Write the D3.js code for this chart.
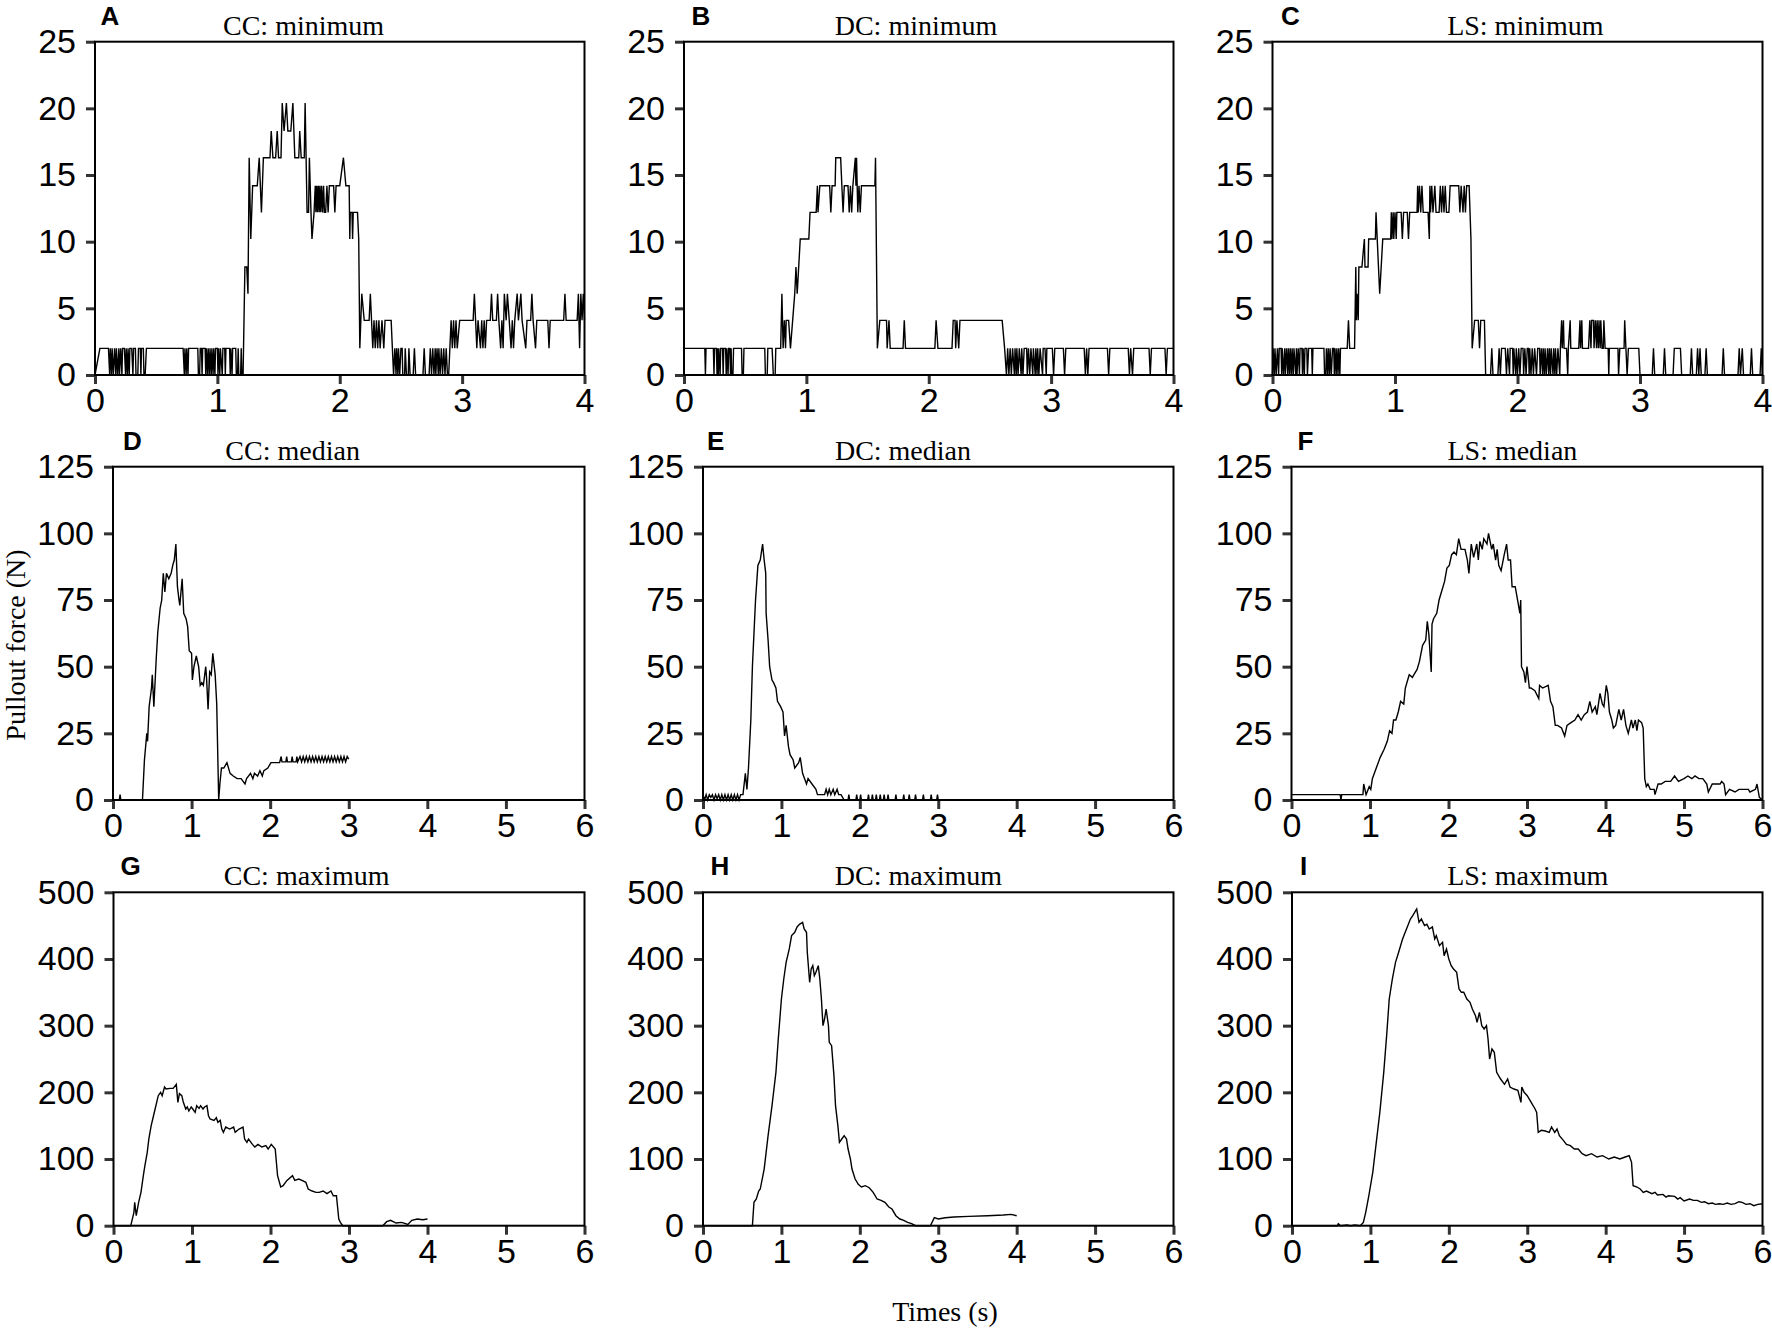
<!DOCTYPE html>
<html>
<head>
<meta charset="utf-8">
<script src="https://cdnjs.cloudflare.com/ajax/libs/d3/7.8.5/d3.min.js"></script>
<style>
body { margin: 0; background: #fff; }
svg { display: block; }
.tick text { font-family: "Liberation Sans", Arial, sans-serif; font-size: 34px; fill: #000; }
.tick line { stroke: #333; stroke-width: 3; }
.title { font-family: "Liberation Serif", "Times New Roman", serif; font-size: 28px; }
.letter { font-family: "Liberation Sans", Arial, sans-serif; font-size: 26px; font-weight: bold; }
.axlabel { font-family: "Liberation Serif", "Times New Roman", serif; font-size: 28px; }
</style>
</head>
<body>
<svg id="canvas" width="1772" height="1330"></svg>
<script>

// [time (s), pullout force (N)]
var ccMin = [[0,0],[0.04,2],[0.11,2],[0.12,0],[0.125,2],[0.135,0],[0.14,2],[0.15,0],[0.16,2],[0.17,0],[0.175,2],[0.185,0],[0.195,2],[0.2,0],[0.21,2],[0.22,0],[0.225,2],[0.24,2],[0.25,0],[0.255,2],[0.265,0],[0.27,2],[0.28,0],[0.285,2],[0.3,2],[0.31,0],[0.315,2],[0.33,2],[0.335,0],[0.35,0],[0.355,2],[0.37,2],[0.375,0],[0.38,2],[0.395,2],[0.4,0],[0.41,0],[0.42,2],
  [0.72,2],[0.73,0],[0.735,2],[0.745,0],[0.75,2],[0.76,0],[0.765,2],[0.84,2],[0.845,0],[0.855,0],[0.86,2],[0.87,2],[0.875,0],[0.88,2],[0.9,2],[0.905,0],[0.91,2],[0.92,0],[0.925,2],[0.935,0],[0.94,2],[0.95,0],[0.955,2],[0.965,0],[0.97,2],[0.98,0],[0.985,2],[1.0,2],[1.005,0],[1.01,2],[1.02,0],[1.025,2],[1.04,0],[1.045,2],[1.06,2],[1.065,0],[1.07,2],[1.1,2],[1.105,0],[1.11,2],[1.12,0],[1.125,2],[1.15,2],[1.155,0],[1.165,0],[1.17,2],[1.175,0],[1.19,0],[1.195,2],[1.2,0],[1.21,0],
  [1.225,8.1],[1.24,8.1],[1.25,6.1],[1.26,16.3],[1.273,10.2],[1.288,14.2],[1.326,14.2],[1.342,16.3],[1.36,12.2],[1.376,16.3],[1.43,16.3],[1.44,18.3],[1.454,16.3],[1.476,16.3],[1.489,18.3],[1.5,16.3],[1.52,16.3],[1.53,20.4],[1.545,18.3],[1.564,20.4],[1.576,18.3],[1.6,18.3],[1.617,20.4],[1.633,16.3],[1.665,16.3],[1.673,18.3],[1.685,16.3],[1.71,16.3],[1.717,20.4],[1.733,12.2],[1.745,12.2],[1.752,16.3],[1.765,12.2],[1.773,10.2],[1.79,12.2],[1.8,14.2],[1.805,12.2],[1.812,14.2],[1.818,12.2],[1.825,14.2],[1.832,12.2],[1.838,14.2],[1.845,12.2],[1.852,14.2],[1.86,12.2],[1.868,14.2],[1.875,12.2],[1.885,12.2],[1.895,14.2],[1.905,12.2],[1.915,14.2],[1.95,14.2],[1.96,12.2],[1.97,14.2],[2.0,14.2],[2.03,16.3],[2.05,14.2],[2.077,14.2],[2.082,10.2],[2.086,12.2],[2.1,12.2],[2.105,10.2],[2.11,12.2],[2.145,12.2],[2.155,10.2],[2.164,2],[2.18,6.1],[2.2,4.1],[2.24,4.1],[2.25,6.1],[2.27,2],[2.28,4.1],[2.29,2],[2.3,4.1],[2.31,2],[2.32,4.1],[2.33,2],[2.345,4.1],[2.36,2],[2.37,4.1],[2.42,4.1],[2.43,2],[2.44,0],[2.45,2],[2.46,0],[2.465,2],[2.475,0],[2.48,2],[2.49,0],[2.5,2],[2.51,2],[2.515,0],[2.53,0],[2.535,2],[2.545,0],[2.56,0],[2.565,2],[2.575,0],[2.6,0],[2.61,2],[2.62,0],[2.68,0],[2.69,2],[2.7,0],[2.73,0],[2.74,2],[2.75,0],[2.76,2],[2.77,0],[2.78,2],[2.785,0],[2.795,2],[2.805,0],[2.81,2],[2.82,0],[2.83,2],[2.84,0],[2.85,2],[2.86,0],[2.87,2],[2.88,0],[2.89,0],[2.91,4.1],[2.92,2],[2.93,4.1],[2.94,2],[2.95,4.1],[2.96,2],[2.98,4.1],[3.09,4.1],[3.1,6.1],[3.11,4.1],[3.12,2],[3.13,4.1],[3.15,2],[3.16,4.1],[3.17,2],[3.18,4.1],[3.19,2],[3.2,4.1],[3.23,4.1],[3.24,6.1],[3.25,4.1],[3.28,4.1],[3.29,6.1],[3.3,4.1],[3.315,2],[3.325,4.1],[3.335,2],[3.345,6.1],[3.36,4.1],[3.37,6.1],[3.385,4.1],[3.4,2],[3.41,4.1],[3.42,2],[3.43,4.1],[3.45,6.1],[3.46,4.1],[3.48,6.1],[3.49,4.1],[3.52,2],[3.53,4.1],[3.56,4.1],[3.57,6.1],[3.58,4.1],[3.6,2],[3.61,4.1],[3.7,4.1],[3.71,2],[3.72,4.1],[3.83,4.1],[3.84,6.1],[3.85,4.1],[3.94,4.1],[3.95,6.1],[3.96,2],[3.97,6.1],[3.98,4.1],[3.99,6.1],[4.0,4.1]];

var dcMin = [[0,2],[0.17,2],[0.175,0],[0.18,2],[0.24,2],[0.245,0],[0.25,2],[0.265,2],[0.27,0],[0.275,2],[0.28,0],[0.285,2],[0.295,0],[0.3,2],[0.315,2],[0.32,0],[0.325,2],[0.34,2],[0.345,0],[0.35,2],[0.36,0],[0.365,2],[0.375,2],[0.38,0],[0.385,2],[0.39,0],[0.4,0],[0.405,2],[0.47,2],[0.475,0],[0.485,0],[0.49,2],[0.66,2],[0.665,0],[0.68,0],[0.685,2],[0.72,2],[0.73,0],[0.745,0],[0.75,2],[0.79,2],[0.8,6.1],[0.81,2],[0.82,4.1],[0.83,2],[0.835,4.1],[0.855,4.1],[0.87,2],[0.905,6.1],[0.915,8.1],[0.925,6.1],[0.95,10.2],[1.02,10.2],[1.03,12.2],[1.08,12.2],[1.09,14.2],[1.095,12.2],[1.11,14.2],[1.19,14.2],[1.2,12.2],[1.21,14.2],[1.235,14.2],[1.24,16.3],[1.28,16.3],[1.29,14.2],[1.3,12.2],[1.31,14.2],[1.34,14.2],[1.35,12.2],[1.36,14.2],[1.37,12.2],[1.38,14.2],[1.4,16.3],[1.405,14.2],[1.41,16.3],[1.42,12.2],[1.43,14.2],[1.44,12.2],[1.45,14.2],[1.56,14.2],[1.565,16.3],[1.58,2],[1.6,4.1],[1.655,4.1],[1.66,2],[1.675,4.1],[1.685,2],[1.79,2],[1.8,4.1],[1.81,2],[2.05,2],[2.06,4.1],[2.075,2],[2.19,2],[2.2,4.1],[2.215,4.1],[2.22,2],[2.23,4.1],[2.245,2],[2.255,4.1],[2.6,4.1],[2.62,2],[2.635,0],[2.645,2],[2.655,0],[2.665,2],[2.675,0],[2.685,2],[2.7,0],[2.705,2],[2.715,0],[2.72,2],[2.73,0],[2.74,2],[2.755,0],[2.76,2],[2.77,0],[2.78,2],[2.8,2],[2.805,0],[2.815,2],[2.825,0],[2.835,2],[2.85,0],[2.855,2],[2.87,0],[2.875,2],[2.885,0],[2.89,2],[2.9,0],[2.91,2],[2.93,0],[2.935,2],[2.95,2],[2.96,0],[2.965,2],[3.01,2],[3.02,0],[3.03,2],[3.1,2],[3.11,0],[3.12,2],[3.27,2],[3.28,0],[3.29,2],[3.3,0],[3.31,2],[3.46,2],[3.47,0],[3.48,2],[3.63,2],[3.64,0],[3.65,2],[3.665,0],[3.675,2],[3.8,2],[3.81,0],[3.82,2],[3.93,2],[3.94,0],[3.95,2],[4.0,2]];

var lsMin = [[0,0],[0.005,2],[0.015,0],[0.02,2],[0.03,0],[0.04,2],[0.05,0],[0.055,2],[0.07,2],[0.075,0],[0.08,2],[0.09,0],[0.1,2],[0.105,0],[0.115,2],[0.125,0],[0.13,2],[0.14,0],[0.145,2],[0.155,0],[0.16,2],[0.17,0],[0.175,2],[0.19,0],[0.195,2],[0.2,0],[0.21,2],[0.22,0],[0.225,2],[0.24,2],[0.245,0],[0.25,2],[0.26,0],[0.265,2],[0.28,2],[0.285,0],[0.295,2],[0.32,2],[0.325,0],[0.33,2],[0.42,2],[0.425,0],[0.435,0],[0.44,2],[0.45,0],[0.455,2],[0.465,0],[0.47,2],[0.48,0],[0.49,2],[0.5,2],[0.505,0],[0.51,2],[0.52,0],[0.525,2],[0.535,0],[0.54,2],[0.55,0],[0.555,2],[0.61,2],[0.62,4.1],[0.63,2],[0.67,2],[0.68,8.1],[0.685,4.1],[0.69,6.1],[0.7,4.1],[0.705,8.1],[0.73,8.1],[0.75,10.2],[0.755,8.1],[0.78,8.1],[0.785,10.2],[0.84,10.2],[0.845,12.2],[0.875,6.1],[0.9,10.2],[0.965,10.2],[0.97,12.2],[0.975,10.2],[0.985,12.2],[0.99,10.2],[1.0,12.2],[1.01,10.2],[1.015,12.2],[1.05,12.2],[1.06,10.2],[1.07,12.2],[1.1,12.2],[1.11,10.2],[1.12,12.2],[1.18,12.2],[1.185,14.2],[1.19,12.2],[1.2,14.2],[1.21,12.2],[1.22,14.2],[1.23,12.2],[1.27,12.2],[1.28,10.2],[1.285,14.2],[1.29,12.2],[1.3,14.2],[1.31,12.2],[1.325,14.2],[1.335,12.2],[1.36,12.2],[1.37,14.2],[1.38,12.2],[1.39,14.2],[1.4,12.2],[1.41,14.2],[1.42,12.2],[1.44,12.2],[1.45,14.2],[1.52,14.2],[1.53,12.2],[1.54,14.2],[1.555,12.2],[1.565,14.2],[1.575,12.2],[1.585,14.2],[1.605,14.2],[1.62,10.2],[1.63,2],[1.65,4.1],[1.68,4.1],[1.69,2],[1.7,4.1],[1.73,4.1],[1.74,0],[1.78,0],[1.79,2],[1.8,0],[1.84,0],[1.85,2],[1.86,0],[1.87,2],[1.9,2],[1.91,0],[1.92,2],[1.935,0],[1.94,2],[1.96,2],[1.965,0],[1.97,2],[1.985,0],[1.99,2],[2.0,0],[2.01,2],[2.02,0],[2.03,2],[2.045,2],[2.05,0],[2.06,2],[2.07,0],[2.08,2],[2.09,2],[2.095,0],[2.1,2],[2.11,0],[2.12,2],[2.13,0],[2.14,2],[2.155,0],[2.165,2],[2.18,2],[2.185,0],[2.195,2],[2.205,0],[2.21,2],[2.22,0],[2.225,2],[2.235,0],[2.245,2],[2.255,0],[2.26,2],[2.27,0],[2.275,2],[2.29,0],[2.295,2],[2.305,0],[2.31,2],[2.32,0],[2.33,2],[2.345,0],[2.35,2],[2.36,4.1],[2.365,2],[2.375,4.1],[2.38,2],[2.4,2],[2.41,0],[2.415,2],[2.43,4.1],[2.435,2],[2.5,2],[2.51,4.1],[2.515,2],[2.525,4.1],[2.53,2],[2.58,2],[2.59,4.1],[2.6,2],[2.605,4.1],[2.62,4.1],[2.625,2],[2.635,4.1],[2.645,2],[2.65,4.1],[2.66,2],[2.665,4.1],[2.675,2],[2.68,4.1],[2.69,2],[2.7,2],[2.705,4.1],[2.715,2],[2.74,2],[2.745,0],[2.75,2],[2.82,2],[2.825,0],[2.835,2],[2.87,2],[2.875,4.1],[2.885,2],[2.895,0],[2.905,2],[2.99,2],[3.0,0],[3.1,0],[3.11,2],[3.12,0],[3.19,0],[3.2,2],[3.21,0],[3.27,0],[3.28,2],[3.33,2],[3.34,0],[3.41,0],[3.42,2],[3.43,0],[3.46,0],[3.47,2],[3.48,0],[3.49,2],[3.5,0],[3.53,0],[3.54,2],[3.55,0],[3.67,0],[3.68,2],[3.69,0],[3.8,0],[3.81,2],[3.82,0],[3.835,2],[3.845,0],[3.9,0],[3.91,2],[3.92,0],[3.98,0],[3.99,2],[4.0,0]];

var ccMed = [[0,0],[0.08,0],[0.09,2],[0.1,0],[0.375,0],[0.4,15],[0.43,25],[0.44,22],[0.46,35],[0.49,42],[0.5,47],[0.52,35],[0.55,53],[0.57,63],[0.6,72],[0.62,75],[0.64,85],[0.66,78],[0.68,85],[0.71,83],[0.74,85],[0.76,88],[0.78,90],[0.8,96],[0.82,80],[0.84,75],[0.85,73],[0.88,83],[0.9,70],[0.93,68],[0.95,65],[0.97,56],[1.0,55],[1.01,45],[1.03,50],[1.06,54],[1.09,50],[1.11,43],[1.13,44],[1.15,43],[1.18,50],[1.19,46],[1.21,34],[1.23,48],[1.25,47],[1.27,55],[1.3,47],[1.32,36],[1.345,0],[1.36,6],[1.38,12],[1.41,12],[1.45,14],[1.49,10],[1.53,9],[1.58,8],[1.63,8],[1.68,6],[1.7,8],[1.75,10],[1.78,8],[1.8,10],[1.84,9],[1.87,11],[1.9,9],[1.92,11],[1.97,12],[2.01,14],[2.12,14],[2.14,16.3],[2.15,14.3],[2.2,14.3],[2.21,16.3],[2.22,14.3],[2.27,14.3],[2.28,16.3],[2.29,14.3],[2.33,14.3],[2.34,16.3],[2.35,14.3],[2.38,16.3],[2.4,14.3],[2.42,16.3],[2.44,14.3],[2.46,16.3],[2.48,14.3],[2.5,16.3],[2.52,14.3],[2.54,16.3],[2.56,14.3],[2.58,16.3],[2.6,14.3],[2.62,16.3],[2.64,14.3],[2.66,16.3],[2.68,14.3],[2.7,16.3],[2.72,14.3],[2.74,16.3],[2.76,14.3],[2.78,16.3],[2.8,14.3],[2.82,16.3],[2.84,14.3],[2.86,16.3],[2.88,14.3],[2.9,16.3],[2.92,14.3],[2.94,16.3],[2.96,14.3],[2.98,16.3],[3.0,15.3]];

var dcMed = [[0,2],[0.02,0],[0.04,2],[0.06,0],[0.08,2],[0.1,1],[0.12,2],[0.14,0],[0.16,2],[0.18,0.5],[0.2,2],[0.22,0],[0.24,2],[0.26,0],[0.28,2],[0.3,0],[0.32,2],[0.34,0],[0.36,2],[0.38,0],[0.4,2],[0.42,0],[0.44,2],[0.46,0],[0.48,2],[0.51,2],[0.54,10],[0.56,4],[0.58,12],[0.61,30],[0.63,50],[0.67,75],[0.7,88],[0.73,90],[0.76,96],[0.78,90],[0.8,85],[0.805,70],[0.83,60],[0.85,50],[0.88,45],[0.9,44],[0.93,42],[0.95,37],[0.99,35],[1.02,33],[1.04,24],[1.06,28],[1.09,20],[1.11,17],[1.15,15],[1.17,12],[1.22,14],[1.24,16],[1.27,10],[1.32,6],[1.34,8],[1.39,6],[1.44,4],[1.46,2],[1.55,2],[1.57,4],[1.59,2],[1.61,4],[1.63,2],[1.66,4],[1.68,2],[1.71,4],[1.73,2],[1.76,2],[1.8,0],[1.85,0],[1.86,2],[1.87,0],[1.95,0],[1.96,2],[1.97,0],[2.0,0],[2.01,2],[2.02,0],[2.1,0],[2.11,2],[2.12,0],[2.15,0],[2.16,2],[2.17,0],[2.2,0],[2.21,2],[2.22,0],[2.25,0],[2.26,2],[2.27,0],[2.3,0],[2.31,2],[2.32,0],[2.35,0],[2.36,2],[2.37,0],[2.45,0],[2.46,2],[2.47,0],[2.55,0],[2.56,2],[2.57,0],[2.62,0],[2.63,2],[2.64,0],[2.7,0],[2.71,2],[2.72,0],[2.8,0],[2.81,2],[2.82,0],[2.9,0],[2.91,2],[2.92,0],[2.98,0],[2.99,2],[3.0,0]];

var lsMed = [[0,2],[0.62,2],[0.63,0],[0.64,2],[0.91,2],[0.92,6],[0.95,2],[0.99,5],[1.01,4],[1.03,8],[1.08,12],[1.13,16],[1.18,19],[1.22,22],[1.25,26],[1.28,25],[1.3,30],[1.33,30],[1.36,33],[1.39,37],[1.43,36],[1.45,42],[1.48,45],[1.5,47],[1.54,46],[1.56,47],[1.6,49],[1.63,52],[1.67,58],[1.71,60],[1.73,67],[1.75,62],[1.78,48],[1.79,66],[1.81,68],[1.85,70],[1.88,75],[1.91,78],[1.95,82],[1.98,87],[2.01,88],[2.04,92],[2.07,93],[2.1,92],[2.13,98],[2.16,94],[2.21,94],[2.24,90],[2.26,85],[2.29,96],[2.32,91],[2.36,96],[2.38,90],[2.4,97],[2.43,94],[2.45,98],[2.49,96],[2.51,100],[2.55,94],[2.57,96],[2.6,90],[2.62,94],[2.64,88],[2.67,86],[2.71,92],[2.74,96],[2.76,90],[2.79,90],[2.81,80],[2.85,80],[2.88,75],[2.91,70],[2.92,75],[2.93,50],[2.96,48],[2.98,44],[3.0,50],[3.03,42],[3.05,42],[3.1,41],[3.15,38],[3.16,43],[3.2,42],[3.27,43],[3.3,37],[3.33,35],[3.36,28],[3.39,28],[3.44,27],[3.48,24],[3.51,28],[3.56,29],[3.61,30],[3.65,32],[3.69,30],[3.73,32],[3.77,33],[3.8,37],[3.83,33],[3.87,35],[3.89,32],[3.93,40],[3.96,36],[3.98,35],[4.01,43],[4.03,40],[4.05,33],[4.08,30],[4.1,27],[4.13,28],[4.17,34],[4.2,30],[4.23,34],[4.26,28],[4.29,25],[4.33,30],[4.35,27],[4.38,30],[4.4,26],[4.42,30],[4.46,29],[4.48,27],[4.5,8],[4.52,5],[4.54,6],[4.57,4],[4.62,4],[4.63,2],[4.67,6],[4.71,6],[4.76,7],[4.83,7],[4.88,9],[4.93,7],[5.0,8],[5.05,9],[5.1,8],[5.14,9],[5.19,8],[5.24,8],[5.29,6],[5.31,3],[5.36,6],[5.46,6],[5.48,7],[5.51,6],[5.53,2],[5.58,4],[5.65,3],[5.7,4],[5.82,4],[5.84,3],[5.91,4],[5.93,6],[5.96,1],[6.0,0]];

var ccMax = [[0,0],[0.22,0],[0.23,5],[0.26,20],[0.27,35],[0.29,15],[0.32,35],[0.35,50],[0.38,75],[0.4,90],[0.43,110],[0.45,130],[0.48,150],[0.5,160],[0.53,175],[0.55,185],[0.57,195],[0.6,200],[0.62,195],[0.65,208],[0.67,205],[0.72,206],[0.76,206],[0.8,212],[0.82,185],[0.84,198],[0.87,195],[0.89,185],[0.92,175],[0.94,178],[0.96,172],[0.99,178],[1.01,175],[1.04,170],[1.06,180],[1.09,176],[1.11,180],[1.14,175],[1.16,178],[1.19,180],[1.21,165],[1.23,160],[1.28,158],[1.31,162],[1.33,155],[1.36,158],[1.38,145],[1.4,140],[1.43,148],[1.48,145],[1.53,148],[1.55,140],[1.6,145],[1.65,148],[1.67,130],[1.7,125],[1.72,130],[1.77,122],[1.8,118],[1.84,122],[1.89,118],[1.94,120],[1.97,115],[2.01,122],[2.06,115],[2.09,75],[2.13,58],[2.16,60],[2.21,68],[2.28,75],[2.31,68],[2.36,70],[2.4,68],[2.45,65],[2.48,55],[2.53,52],[2.58,50],[2.62,50],[2.67,52],[2.72,48],[2.77,52],[2.8,45],[2.84,45],[2.87,10],[2.89,5],[2.92,0],[3.43,0],[3.48,6],[3.53,8],[3.6,4],[3.67,5],[3.75,2],[3.8,8],[3.87,10],[3.94,9],[4.0,10]];

var dcMax = [[0,0],[0.63,0],[0.65,35],[0.68,40],[0.71,52],[0.73,55],[0.78,85],[0.83,135],[0.88,180],[0.93,230],[0.96,280],[1.0,340],[1.03,370],[1.06,395],[1.1,415],[1.13,435],[1.17,440],[1.2,448],[1.23,452],[1.27,455],[1.29,445],[1.32,440],[1.33,410],[1.36,365],[1.38,385],[1.4,390],[1.42,375],[1.44,380],[1.47,390],[1.49,370],[1.51,340],[1.53,300],[1.55,310],[1.57,325],[1.6,300],[1.61,275],[1.64,270],[1.67,225],[1.69,180],[1.72,150],[1.74,125],[1.77,130],[1.8,135],[1.83,130],[1.85,115],[1.88,100],[1.9,85],[1.94,70],[1.98,62],[2.02,58],[2.07,60],[2.12,57],[2.17,50],[2.22,40],[2.27,38],[2.32,35],[2.37,28],[2.41,25],[2.46,15],[2.51,10],[2.56,8],[2.61,5],[2.66,3],[2.71,0],[2.9,0],[2.95,12],[3.0,10],[3.09,12],[3.2,13],[3.39,14],[3.63,15],[3.83,16],[3.93,17],[4.0,15]];

var lsMax = [[0,0],[0.58,0],[0.59,3],[0.62,0],[0.7,1],[0.75,0],[0.8,1],[0.87,0],[0.91,5],[0.94,20],[0.98,45],[1.03,80],[1.07,120],[1.12,170],[1.17,230],[1.21,290],[1.24,340],[1.28,370],[1.32,395],[1.36,410],[1.41,430],[1.46,445],[1.51,460],[1.54,465],[1.59,475],[1.62,455],[1.65,460],[1.69,450],[1.72,452],[1.75,445],[1.79,448],[1.82,430],[1.84,435],[1.88,420],[1.92,425],[1.94,405],[1.97,415],[2.0,400],[2.03,390],[2.06,385],[2.1,380],[2.13,355],[2.16,350],[2.19,350],[2.23,340],[2.27,335],[2.3,325],[2.34,315],[2.36,305],[2.39,320],[2.42,300],[2.45,295],[2.48,300],[2.5,280],[2.52,250],[2.55,265],[2.58,260],[2.61,230],[2.66,220],[2.71,212],[2.75,220],[2.78,208],[2.83,205],[2.88,203],[2.92,185],[2.93,208],[2.96,200],[3.0,195],[3.05,185],[3.1,175],[3.12,170],[3.14,140],[3.18,143],[3.23,142],[3.28,140],[3.31,148],[3.35,140],[3.38,145],[3.41,135],[3.46,128],[3.5,122],[3.55,120],[3.6,115],[3.65,115],[3.7,108],[3.75,105],[3.82,108],[3.89,103],[3.96,105],[4.04,100],[4.11,103],[4.18,100],[4.25,103],[4.3,105],[4.33,95],[4.35,60],[4.4,58],[4.44,55],[4.48,50],[4.52,52],[4.59,48],[4.63,50],[4.66,46],[4.73,47],[4.77,43],[4.8,45],[4.88,44],[4.92,40],[4.95,42],[5.0,37],[5.07,40],[5.12,38],[5.17,38],[5.22,35],[5.26,36],[5.31,33],[5.36,34],[5.4,32],[5.45,33],[5.5,32],[5.55,34],[5.6,32],[5.65,33],[5.7,36],[5.74,35],[5.79,32],[5.84,33],[5.89,30],[5.94,32],[6.0,33]];

var xTicks4 = [0, 1, 2, 3, 4];
var xTicks6 = [0, 1, 2, 3, 4, 5, 6];
var yTicksMin = [0, 5, 10, 15, 20, 25];
var yTicksMed = [0, 25, 50, 75, 100, 125];
var yTicksMax = [0, 100, 200, 300, 400, 500];

// layout of the 3x3 grid (pixels)
var rows = [{top: 41.7, bottom: 375}, {top: 466.7, bottom: 800}, {top: 892.3, bottom: 1225.7}];
var panels = [
  {letter: 'A', title: 'CC: minimum', data: ccMin, xt: xTicks4, yt: yTicksMin, row: 0, left: 95, right: 584.5, tf: 0.426, lx: 5.5},
  {letter: 'B', title: 'DC: minimum', data: dcMin, xt: xTicks4, yt: yTicksMin, row: 0, left: 684, right: 1173.5, tf: 0.474, lx: 7.5},
  {letter: 'C', title: 'LS: minimum', data: lsMin, xt: xTicks4, yt: yTicksMin, row: 0, left: 1272.5, right: 1762.5, tf: 0.516, lx: 8.5},
  {letter: 'D', title: 'CC: median', data: ccMed, xt: xTicks6, yt: yTicksMed, row: 1, left: 113, right: 584.5, tf: 0.381, lx: 10},
  {letter: 'E', title: 'DC: median', data: dcMed, xt: xTicks6, yt: yTicksMed, row: 1, left: 703, right: 1173.5, tf: 0.425, lx: 4},
  {letter: 'F', title: 'LS: median', data: lsMed, xt: xTicks6, yt: yTicksMed, row: 1, left: 1291.5, right: 1762.5, tf: 0.469, lx: 6},
  {letter: 'G', title: 'CC: maximum', data: ccMax, xt: xTicks6, yt: yTicksMax, row: 2, left: 113.5, right: 584.5, tf: 0.41, lx: 7},
  {letter: 'H', title: 'DC: maximum', data: dcMax, xt: xTicks6, yt: yTicksMax, row: 2, left: 703, right: 1173.5, tf: 0.458, lx: 7.5},
  {letter: 'I', title: 'LS: maximum', data: lsMax, xt: xTicks6, yt: yTicksMax, row: 2, left: 1292, right: 1762.5, tf: 0.501, lx: 8}
];

var svg = d3.select('#canvas');
var fmt = d3.format('d');

panels.forEach(function(p) {
  var r = rows[p.row];
  var x = d3.scaleLinear().domain([0, d3.max(p.xt)]).range([p.left, p.right]);
  var y = d3.scaleLinear().domain([0, d3.max(p.yt)]).range([r.bottom, r.top]);
  var g = svg.append('g');

  g.append('g')
    .attr('transform', 'translate(0,' + r.bottom + ')')
    .call(d3.axisBottom(x).tickValues(p.xt).tickFormat(fmt).tickSize(9).tickPadding(4))
    .call(function(a) { a.select('.domain').remove(); });

  g.append('g')
    .attr('transform', 'translate(' + p.left + ',0)')
    .call(d3.axisLeft(y).tickValues(p.yt).tickFormat(fmt).tickSize(9).tickPadding(10))
    .call(function(a) { a.select('.domain').remove(); });

  g.append('path')
    .datum(p.data)
    .attr('fill', 'none')
    .attr('stroke', '#000')
    .attr('stroke-width', 1.4)
    .attr('d', d3.line().x(function(d) { return x(d[0]); }).y(function(d) { return y(d[1]); }));

  g.append('rect')
    .attr('x', p.left).attr('y', r.top)
    .attr('width', p.right - p.left).attr('height', r.bottom - r.top)
    .attr('fill', 'none').attr('stroke', '#000').attr('stroke-width', 2);

  g.append('text').attr('class', 'letter')
    .attr('x', p.left + p.lx).attr('y', r.top - 17)
    .text(p.letter);

  g.append('text').attr('class', 'title')
    .attr('x', p.left + p.tf * (p.right - p.left)).attr('y', r.top - 7)
    .attr('text-anchor', 'middle')
    .text(p.title);
});

svg.append('text').attr('class', 'axlabel')
  .attr('transform', 'translate(25,645) rotate(-90)')
  .attr('text-anchor', 'middle')
  .text('Pullout force (N)');

svg.append('text').attr('class', 'axlabel')
  .attr('x', 945).attr('y', 1321)
  .attr('text-anchor', 'middle')
  .text('Times (s)');

</script>
</body>
</html>
